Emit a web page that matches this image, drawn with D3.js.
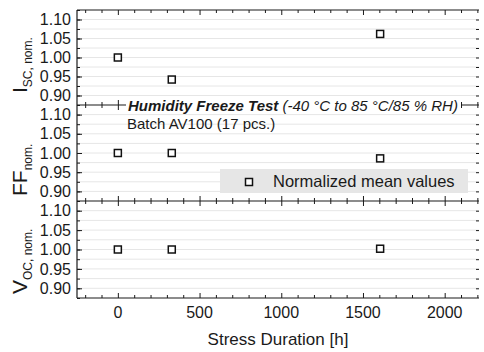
<!DOCTYPE html>
<html>
<head>
<meta charset="utf-8">
<script src="https://cdn.jsdelivr.net/npm/d3@7"></script>
<style>
  body { margin: 0; background: #fff; }
  text { font-family: "Liberation Sans", Arial, sans-serif; fill: #1a1a1a; }
  .axis path { display: none; }
  .axis line { stroke: #1a1a1a; }
</style>
</head>
<body>
<div id="chart"></div>
<script>
// stress duration in hours for the three measurements
const hours = [0, 330, 1605];
const iscValues = [1.000, 0.942, 1.062];
const ffValues = [1.000, 1.000, 0.986];
const vocValues = [1.000, 1.000, 1.002];

const xTicks = [0, 500, 1000, 1500, 2000];
const yTicks = [0.90, 0.95, 1.00, 1.05, 1.10];

const panels = [
    {main: "I", sub: "SC, nom.", values: iscValues, top: 10, bottom: 105, labelY: 93},
    {main: "FF", sub: "nom.", values: ffValues, top: 105, bottom: 201, labelY: 196},
    {main: "V", sub: "OC, nom.", values: vocValues, top: 201, bottom: 298, labelY: 294}
];

const width = 484, height = 352;
const left = 77, right = 479;

const svg = d3.select("#chart").append("svg")
    .attr("width", width)
    .attr("height", height);

const x = d3.scaleLinear().domain([-250, 2210]).range([left, right]);
const xMinor = d3.range(-200, 2201, 100);
const yMinor = d3.range(0.875, 1.1251, 0.025);

panels.forEach((p, i) => {
    const y = d3.scaleLinear().domain([0.875, 1.125]).range([p.bottom, p.top]);

    // light grid every 0.025
    svg.append("g").selectAll("line")
        .data(yMinor.filter(v => v > 0.88 && v < 1.12))
        .enter().append("line")
        .attr("x1", left).attr("x2", right)
        .attr("y1", d => y(d)).attr("y2", d => y(d))
        .attr("stroke", "#e6e6e6");

    // left axis
    const yl = svg.append("g").attr("class", "axis")
        .attr("transform", "translate(" + left + ",0)");
    yl.call(d3.axisLeft(y).tickValues(yMinor).tickSize(-3).tickFormat(""));
    yl.append("g").call(d3.axisLeft(y).tickValues(yTicks).tickSize(-5).tickPadding(6)
        .tickFormat(d3.format(".2f")))
        .call(g => g.select("path").remove())
        .selectAll("text")
        .style("font-size", "16px")
        .attr("fill", "#1a1a1a");

    // right axis ticks only
    svg.append("g").attr("class", "axis")
        .attr("transform", "translate(" + right + ",0)")
        .call(d3.axisRight(y).tickValues(yMinor.filter(v => v > 0.88 && v < 1.12)).tickSize(-3).tickFormat(""))
        .selectAll("line").attr("stroke", "#555");

    // top and bottom ticks pointing in
    svg.append("g").attr("class", "axis")
        .attr("transform", "translate(0," + p.top + ")")
        .call(d3.axisTop(x).tickValues(xMinor).tickSize(-3).tickFormat(""))
        .call(g => g.selectAll(".tick").filter(d => d % 500 === 0).select("line").attr("y2", 5));
    svg.append("g").attr("class", "axis")
        .attr("transform", "translate(0," + p.bottom + ")")
        .call(d3.axisBottom(x).tickValues(xMinor).tickSize(-3).tickFormat(""))
        .call(g => g.selectAll(".tick").filter(d => d % 500 === 0).select("line").attr("y2", -5));

    // frame lines
    svg.append("line").attr("x1", left).attr("x2", right)
        .attr("y1", p.top).attr("y2", p.top).attr("stroke", "#1a1a1a").attr("stroke-width", 1.2);
    svg.append("line").attr("x1", left).attr("x2", left)
        .attr("y1", p.top).attr("y2", p.bottom).attr("stroke", "#1a1a1a").attr("stroke-width", 1.2);

    p.y = y;
});

svg.append("line").attr("x1", left).attr("x2", right)
    .attr("y1", 298).attr("y2", 298).attr("stroke", "#1a1a1a").attr("stroke-width", 1.2);

// title over the separator
svg.append("rect").attr("x", 126).attr("y", 98).attr("width", 335).attr("height", 14).attr("fill", "#fff");
const title = svg.append("text").attr("x", 128).attr("y", 111).style("font-size", "15px");
title.append("tspan").style("font-weight", "bold").style("font-style", "italic").text("Humidity Freeze Test");
title.append("tspan").style("font-style", "italic").text(" (-40 °C to 85 °C/85 % RH)");

svg.append("text").attr("x", 127).attr("y", 129).style("font-size", "15px")
    .text("Batch AV100 (17 pcs.)");

// legend
svg.append("rect").attr("x", 220).attr("y", 169).attr("width", 248).attr("height", 24).attr("fill", "#e6e6e6");
svg.append("rect").attr("x", 245.5).attr("y", 178.5).attr("width", 7).attr("height", 7)
    .attr("fill", "#fff").attr("stroke", "#111").attr("stroke-width", 1.5);
svg.append("text").attr("x", 273).attr("y", 187).style("font-size", "16.5px").text("Normalized mean values");

// points
panels.forEach(p => {
    svg.append("g").selectAll("rect")
        .data(hours.map((h, i) => ({h: h, v: p.values[i]})))
        .enter().append("rect")
        .attr("x", d => x(d.h) - 3.5)
        .attr("y", d => p.y(d.v) - 3.5)
        .attr("width", 7).attr("height", 7)
        .attr("fill", "#fff").attr("stroke", "#111").attr("stroke-width", 1.5);

    const lab = svg.append("text")
        .attr("transform", "translate(27," + p.labelY + ") rotate(-90)");
    lab.append("tspan").style("font-size", "21px").text(p.main);
    lab.append("tspan").attr("dy", 5).style("font-size", "12px").text(p.sub);
});

// x tick labels + title
svg.append("g").selectAll("text")
    .data(xTicks).enter().append("text")
    .attr("x", d => x(d)).attr("y", 318)
    .attr("text-anchor", "middle").style("font-size", "16px")
    .text(d => d);

svg.append("text").attr("x", (left + right) / 2).attr("y", 345)
    .attr("text-anchor", "middle").style("font-size", "17px")
    .text("Stress Duration [h]");
</script>
</body>
</html>
